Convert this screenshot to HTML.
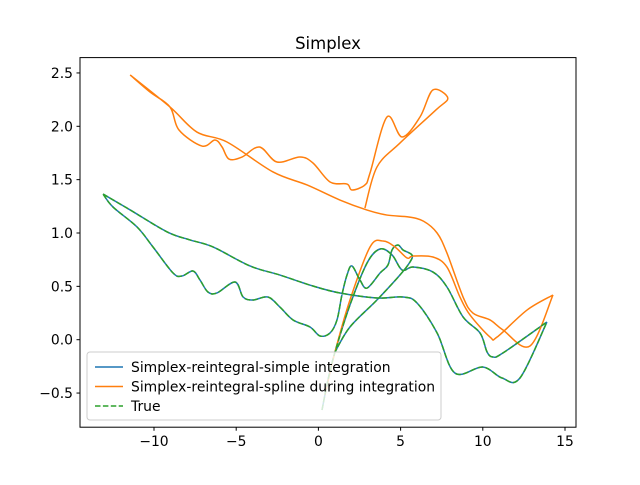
<!DOCTYPE html>
<html><head><meta charset="utf-8"><style>
body{margin:0;background:#fff}
svg text{font-family:"DejaVu Sans","Liberation Sans",sans-serif}
</style></head><body>
<svg id="chart" width="640" height="480" xmlns="http://www.w3.org/2000/svg">
<rect width="640" height="480" fill="#fff"/>
<text x="328" y="49" font-size="16.5" text-anchor="middle">Simplex</text>
<g id="plot"></g>
<rect x="80" y="57.6" width="496" height="369.6" fill="none" stroke="#000" stroke-width="1"/>
<g id="axes"></g>
<g id="legend">
<rect x="87" y="352" width="354" height="68" rx="3" fill="#fff" fill-opacity="0.8" stroke="#ccc"/>
<line x1="95" y1="367" x2="123" y2="367" stroke="#1f77b4" stroke-width="1.5"/>
<text x="131" y="372" font-size="13.9">Simplex-reintegral-simple integration</text>
<line x1="95" y1="386.5" x2="123" y2="386.5" stroke="#ff7f0e" stroke-width="1.5"/>
<text x="131" y="391.5" font-size="13.9">Simplex-reintegral-spline during integration</text>
<line x1="95" y1="406" x2="123" y2="406" stroke="#2ca02c" stroke-width="1.5" stroke-dasharray="5.5,2.4"/>
<text x="131" y="411" font-size="13.9">True</text>
</g>
</svg>
<script>
const xTicks=[-10,-5,0,5,10,15];
const yTicks=[-0.5,0,0.5,1.0,1.5,2.0,2.5];
const yTickLabels=["−0.5","0.0","0.5","1.0","1.5","2.0","2.5"];
const simpleX=[-13.10,-11.45,-9.20,-7.81,-6.41,-4.16,-2.34,-0.33,1.31,3.56,5.15,6.00,7.22,8.30,10.00,11.17,12.26,13.90,null,
-13.10,-12.49,-11.03,-10.06,-8.84,-8.30,-7.63,-7.20,-6.72,-6.17,-5.07,-4.58,-3.98,-3.07,-2.34,-1.54,-0.51,0.10,0.71,1.13,1.43,1.74,2.04,2.53,2.96,3.75,4.23,4.48,4.84,5.15,5.69,5.57,4.96,3.56,1.92,1.01,null,
0.22,0.58,1.01,1.92,2.96,3.75,4.48,5.09,5.76,6.97,7.82,8.80,9.83,10.26,10.62,11.23,13.90];
const simpleY=[1.365,1.216,1.010,0.935,0.869,0.691,0.606,0.503,0.438,0.391,0.400,0.344,0.063,-0.312,-0.256,-0.359,-0.359,0.166,null,
1.365,1.243,1.056,0.869,0.625,0.597,0.644,0.559,0.447,0.438,0.541,0.400,0.372,0.400,0.306,0.185,0.119,0.035,0.063,0.185,0.419,0.606,0.691,0.559,0.484,0.625,0.700,0.841,0.888,0.841,0.794,0.728,0.606,0.372,0.119,-0.115,null,
-0.659,-0.378,-0.115,0.325,0.719,0.850,0.794,0.653,0.681,0.634,0.494,0.213,0.063,-0.115,-0.162,-0.124,0.166];
const trueX=simpleX.slice();
const trueY=simpleY.slice();
const splineX=[-11.45,-9.03,-7.39,-5.56,-2.76,-0.69,1.31,2.96,4.17,5.50,6.40,7.22,7.82,8.80,9.40,10.44,11.23,12.87,14.27,null,
-11.45,-10.24,-9.03,-8.48,-7.08,-6.29,-5.86,-5.44,-4.65,-3.58,-2.52,-1.12,-0.33,0.71,1.74,2.04,2.83,3.14,4.17,5.09,6.18,6.96,7.87,7.14,4.96,3.56,2.83,null,
0.40,1.01,1.92,3.14,3.93,4.66,5.39,5.76,6.97,7.82,8.61,9.22,10.44,10.87,12.69,14.27];
const splineY=[2.481,2.181,1.946,1.853,1.572,1.450,1.309,1.215,1.168,1.150,1.110,1.000,0.812,0.400,0.250,0.185,0.091,-0.059,0.419,null,
2.481,2.321,2.181,1.965,1.815,1.871,1.806,1.693,1.712,1.806,1.665,1.712,1.656,1.478,1.459,1.403,1.450,1.562,2.087,1.900,2.087,2.340,2.265,2.152,1.843,1.618,1.234,null,
-0.518,-0.115,0.372,0.869,0.925,0.869,0.766,0.784,0.775,0.681,0.400,0.232,0.025,0.025,0.278,0.419];

const NS="http://www.w3.org/2000/svg";
function sx(v){return 318.4+v*16.44;}
function sy(v){return 339.7-v*106.7;}
function segD(pts){
  let d="M"+pts[0][0].toFixed(2)+","+pts[0][1].toFixed(2);
  for(let i=0;i<pts.length-1;i++){
    const p0=pts[Math.max(0,i-1)],p1=pts[i],p2=pts[i+1],p3=pts[Math.min(pts.length-1,i+2)];
    const c1x=p1[0]+(p2[0]-p0[0])/6,c1y=p1[1]+(p2[1]-p0[1])/6;
    const c2x=p2[0]-(p3[0]-p1[0])/6,c2y=p2[1]-(p3[1]-p1[1])/6;
    d+="C"+c1x.toFixed(2)+","+c1y.toFixed(2)+" "+c2x.toFixed(2)+","+c2y.toFixed(2)+" "+p2[0].toFixed(2)+","+p2[1].toFixed(2);
  }
  return d;
}
function pathD(xs,ys){let d="",pts=[];
  for(let i=0;i<=xs.length;i++){
    if(i===xs.length||xs[i]===null){if(pts.length>1)d+=segD(pts);pts=[];continue;}
    pts.push([sx(xs[i]),sy(ys[i])]);
  }
  return d;}
const plot=document.getElementById('plot');
function addLine(xs,ys,color,dash,name){const p=document.createElementNS(NS,'path');


p.setAttribute('d',pathD(xs,ys));p.setAttribute('fill','none');p.setAttribute('stroke',color);p.setAttribute('stroke-width','1.5');p.setAttribute('stroke-linejoin','round');if(dash)p.setAttribute('stroke-dasharray',dash);plot.appendChild(p);}
addLine(simpleX,simpleY,'#1f77b4',null,'series-simple-integration');
addLine(splineX,splineY,'#ff7f0e',null,'series-spline-integration');
addLine(trueX,trueY,'#2ca02c','5.5,2.4','series-true');
const axes=document.getElementById('axes');
xTicks.forEach(t=>{const x=sx(t);
const l=document.createElementNS(NS,'line');


l.setAttribute('x1',x);l.setAttribute('x2',x);l.setAttribute('y1',427.2);l.setAttribute('y2',430.7);l.setAttribute('stroke','#000');axes.appendChild(l);
const tx=document.createElementNS(NS,'text');


tx.setAttribute('x',x);tx.setAttribute('y',446);tx.setAttribute('font-size','13.9');tx.setAttribute('text-anchor','middle');tx.textContent=t<0?"−"+Math.abs(t):String(t);axes.appendChild(tx);});
yTicks.forEach((t,i)=>{const y=sy(t);
const l=document.createElementNS(NS,'line');


l.setAttribute('x1',76.5);l.setAttribute('x2',80);l.setAttribute('y1',y);l.setAttribute('y2',y);l.setAttribute('stroke','#000');axes.appendChild(l);
const tx=document.createElementNS(NS,'text');


tx.setAttribute('x',73);tx.setAttribute('y',y+5);tx.setAttribute('font-size','13.9');tx.setAttribute('text-anchor','end');tx.textContent=yTickLabels[i];axes.appendChild(tx);});
</script>
</body></html>
